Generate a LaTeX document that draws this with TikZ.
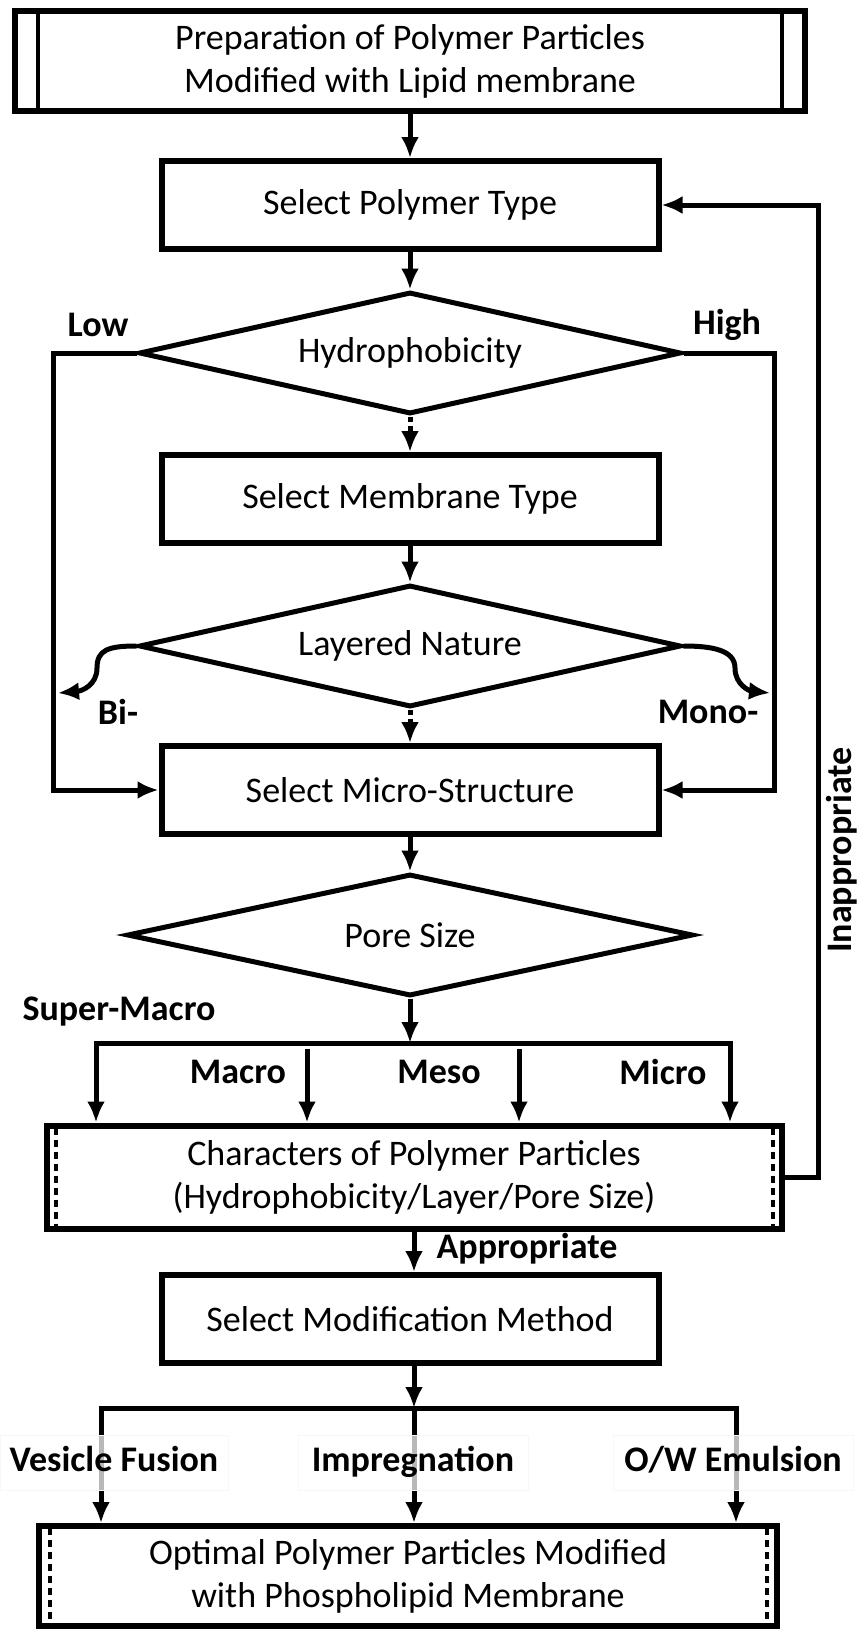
\documentclass[tikz,border=0pt]{standalone}
\usepackage{fontspec}
\setmainfont{Carlito}
\usetikzlibrary{shapes.geometric,arrows.meta}
\newcommand\boxfont{\fontsize{36}{43}\selectfont}
\newcommand\tagfont{\fontsize{36}{40}\selectfont\bfseries}
\tikzset{
  stepbox/.style={draw, line width=6pt, minimum width=497pt, minimum height=88pt,
                  inner sep=0pt, align=center, font=\boxfont},
  widebox/.style={stepbox, minimum width=735pt, minimum height=103pt},
  choice/.style={diamond, draw, line width=5pt, aspect=4.4, minimum width=542pt,
                 minimum height=122pt, inner sep=0pt, font=\boxfont},
  wire/.style={line width=5pt},
  arr/.style={wire, -{Latex[length=21pt,width=18pt]}},
  dotarr/.style={arr, dash pattern=on 5pt off 4pt},
  tag/.style={font=\tagfont, inner sep=0pt},
  methodtag/.style={tag, fill=white, fill opacity=0.72, text opacity=1,
                    draw=black!3, draw opacity=1, line width=0.6pt,
                    text height=24pt, text depth=7pt, minimum height=55pt},
  inner/.style={line width=4pt, dash pattern=on 7pt off 5pt},
}

\begin{document}
\begin{tikzpicture}[x=1pt, y=-1pt]
  \useasboundingbox (0,0) rectangle (858,1630);

  % boxes and decisions down the middle
  \node[stepbox, minimum width=790pt, minimum height=100pt] (prep) at (410,61)
    {Preparation of Polymer Particles\\Modified with Lipid membrane};
  \node[stepbox] (polytype) at (410,205) {Select Polymer Type};
  \node[choice] (hydro) at (410,353) {Hydrophobicity};
  \node[stepbox] (memtype) at (410,499) {Select Membrane Type};
  \node[choice] (layer) at (410,646) {Layered Nature};
  \node[stepbox] (micro) at (410,790) {Select Micro-Structure};
  \node[choice, minimum width=566pt, aspect=4.6] (pore) at (410,935) {Pore Size};
  \node[widebox] (chars) at (414,1177)
    {Characters of Polymer Particles\\(Hydrophobicity/Layer/Pore Size)};
  \node[stepbox] (modif) at (410,1319) {Select Modification Method};
  \node[widebox, minimum width=738pt, minimum height=100pt] (optimal) at (408,1576)
    {Optimal Polymer Particles Modified\\with Phospholipid Membrane};

  % side bars of the start box, dotted inner edges of the others
  \draw[line width=4.5pt] ([xshift=26pt]prep.north west) -- ([xshift=26pt]prep.south west);
  \draw[line width=4.5pt] ([xshift=-26pt]prep.north east) -- ([xshift=-26pt]prep.south east);
  \draw[inner] ([xshift=12pt,yshift=-5pt]chars.north west) -- ([xshift=12pt,yshift=5pt]chars.south west);
  \draw[inner] ([xshift=-12pt,yshift=-5pt]chars.north east) -- ([xshift=-12pt,yshift=5pt]chars.south east);
  \draw[inner] ([xshift=14pt,yshift=-5pt]optimal.north west) -- ([xshift=14pt,yshift=5pt]optimal.south west);
  \draw[inner] ([xshift=-13pt,yshift=-5pt]optimal.north east) -- ([xshift=-13pt,yshift=5pt]optimal.south east);

  % main line
  \draw[arr] (prep) -- (polytype);
  \draw[arr] (polytype) -- (hydro);
  \draw[dotarr] (hydro) -- (memtype);
  \draw[arr] (memtype) -- (layer);
  \draw[dotarr] (layer) -- (micro);
  \draw[arr] (micro) -- (pore);

  % hydrophobicity branches
  \coordinate (lowx) at (53,0);
  \coordinate (highx) at (774,0);
  \draw[arr] (hydro.west) -- (hydro.west -| lowx) |- (micro.west);
  \draw[arr] (hydro.east) -- (hydro.east -| highx) |- (micro.east);
  \node[tag] (low) at (98,325) {Low};
  \node[tag] (high) at (727,325) {High};

  % membrane layers
  \coordinate (bitip) at (58,693);
  \coordinate (monotip) at (770,693);
  \draw[arr] (layer.west) .. controls (108,646) and (97,650) .. (97,668)
    .. controls (97,685) and (82,691) .. (bitip);
  \draw[arr] (layer.east) .. controls (712,646) and (735,650) .. (735,668)
    .. controls (735,685) and (750,691) .. (monotip);
  \node[tag] (bi) at (118,712) {Bi-};
  \node[tag] (mono) at (708,712) {Mono-};

  % pore size split
  \coordinate (pbar) at (410,1043);
  \coordinate (smac) at (96,1043);
  \coordinate (mac) at (307,1043);
  \coordinate (mes) at (519,1043);
  \coordinate (mic) at (730,1043);
  \draw[arr] (pore) -- (pbar);
  \draw[wire] ([yshift=-6pt]smac) -- (smac) -- (mic) -- ([yshift=-6pt]mic);
  \foreach \p in {smac,mac,mes,mic}
    \draw[arr] ([yshift=-6pt]\p) -- (\p |- chars.north);
  \node[tag] (supermacro) at (119,1012) {Super-Macro};
  \node[tag] (macro) at (238,1072) {Macro};
  \node[tag] (meso) at (439,1072) {Meso};
  \node[tag] (microtag) at (663,1072) {Micro};

  % feedback
  \coordinate (backx) at (818,0);
  \draw[arr] (chars.east) -- (chars.east -| backx) |- (polytype.east);
  \node[tag, rotate=90] (inappropriate) at (842,850) {Inappropriate};

  \draw[arr] (chars.south) -- (chars.south |- modif.north);
  \node[tag] (appropriate) at (527,1249) {Appropriate};

  % modification methods
  \coordinate (mbar) at (414,1408);
  \coordinate (vf) at (101,1408);
  \coordinate (ow) at (736,1408);
  \draw[arr] (modif.south -| mbar) -- (mbar);
  \draw[wire] ([yshift=-6pt]vf) -- (vf) -- (ow) -- ([yshift=-6pt]ow);
  \foreach \p in {vf,mbar,ow}
    \draw[arr] (\p) -- (\p |- optimal.north);
  \node[methodtag, minimum width=228pt] (vesicle) at (114,1463) {Vesicle Fusion};
  \node[methodtag, minimum width=230pt] (impreg) at (413,1463) {Impregnation};
  \node[methodtag, minimum width=240pt] (emulsion) at (733,1463) {O/W Emulsion};
\end{tikzpicture}
\end{document}
